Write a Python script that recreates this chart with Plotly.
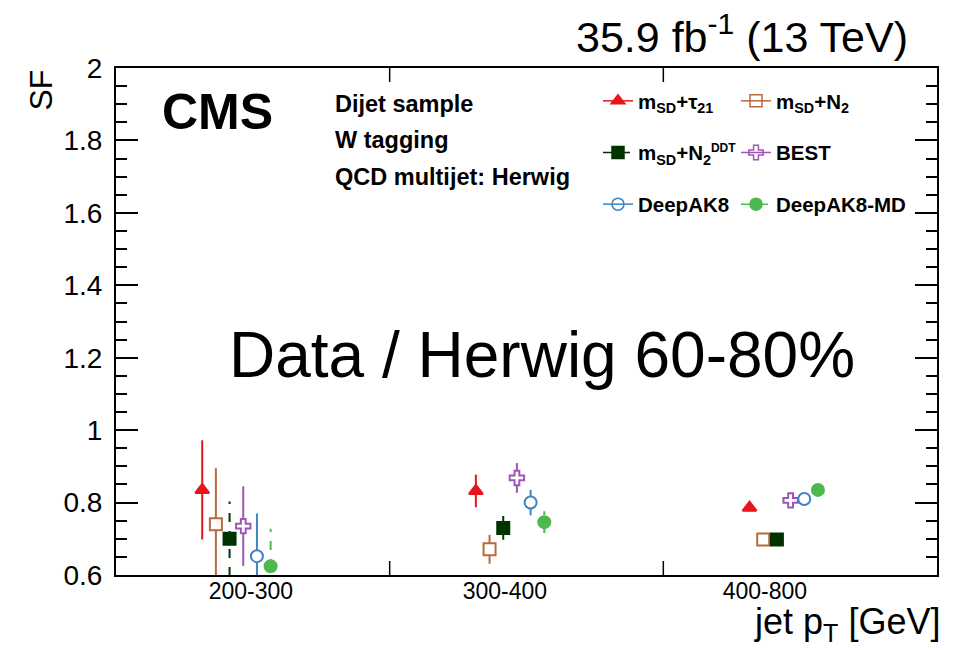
import plotly.graph_objects as go

# ---------------- data ----------------
bins = ["200-300", "300-400", "400-800"]
series_names = [
    "m<sub>SD</sub>+τ<sub>21</sub>",
    "m<sub>SD</sub>+N<sub>2</sub>",
    "m<sub>SD</sub>+N<sub>2</sub><sup><span style='font-size:12px'>DDT</span></sup>",
    "BEST",
    "DeepAK8",
    "DeepAK8-MD",
]
sf_tau21 = [0.835, 0.832, 0.786]
sf_n2 = [0.740, 0.671, 0.698]
sf_n2ddt = [0.700, 0.730, 0.698]
sf_best = [0.735, 0.868, 0.806]
sf_deepak8 = [0.652, 0.800, 0.810]
sf_deepak8md = [0.624, 0.746, 0.835]

err_tau21 = [0.137, 0.045, 0.010]
err_n2 = [0.155, 0.040, 0.010]
err_n2ddt = [0.103, 0.033, 0.010]
err_best = [0.110, 0.041, 0.010]
err_deepak8 = [0.118, 0.035, 0.010]
err_deepak8md = [0.104, 0.030, 0.010]

# ---------------- styles ----------------
FONT = "Liberation Sans, Arial, Helvetica, sans-serif"
W, H = 959, 650
L, R, T, B = 116, 22, 68, 75
PW, PH = W - L - R, H - T - B

def px(xp):
    return (xp - L) / PW

def py(yp):
    return (H - B - yp) / PH

styles = [
    dict(color="#e8141c", symbol="triangle-up", fill="#e8141c", dash="solid", lsym="triangle-up"),
    dict(color="#b9693c", symbol="square", fill="white", dash="solid", lsym="square-open"),
    dict(color="#003300", symbol="square", fill="#003300", dash="dash", lsym="square"),
    dict(color="#a056b4", symbol="cross", fill="white", dash="solid", lsym="cross-open"),
    dict(color="#3d84c6", symbol="circle", fill="white", dash="solid", lsym="circle-open"),
    dict(color="#4db84d", symbol="circle", fill="#4db84d", dash="dash", lsym="circle"),
]
values = [sf_tau21, sf_n2, sf_n2ddt, sf_best, sf_deepak8, sf_deepak8md]
errors = [err_tau21, err_n2, err_n2ddt, err_best, err_deepak8, err_deepak8md]

first_offset, step = 0.315, 0.05

fig = go.Figure()

# error bars (drawn as line segments so they can be dashed)
for k, (vals, errs, st) in enumerate(zip(values, errors, styles)):
    xs, ys = [], []
    for i, (v, e) in enumerate(zip(vals, errs)):
        x = i + first_offset + step * k
        xs += [x, x, None]
        ys += [v - e, v + e, None]
    fig.add_trace(go.Scatter(x=xs, y=ys, mode="lines",
                             line=dict(color=st["color"], width=2, dash=st["dash"]),
                             showlegend=False, hoverinfo="skip", cliponaxis=True))

# markers
for k, (vals, st, name) in enumerate(zip(values, styles, series_names)):
    xs = [i + first_offset + step * k for i in range(len(vals))]
    fig.add_trace(go.Scatter(x=xs, y=vals, mode="markers", name=name,
                             marker=dict(symbol=st["symbol"], size=12, color=st["fill"],
                                         line=dict(color=st["color"], width=2)),
                             showlegend=False))

# legend entries (two columns)
legend_cols = {0: "legend", 2: "legend", 4: "legend", 1: "legend2", 3: "legend2", 5: "legend2"}
for k in [0, 2, 4, 1, 3, 5]:
    st = styles[k]
    fig.add_trace(go.Scatter(x=[None], y=[None], mode="lines+markers",
                             name="<b>" + series_names[k] + "</b>",
                             legend=legend_cols[k], legendgroup=str(k),
                             line=dict(color=st["color"], width=1.5, dash=st["dash"]),
                             marker=dict(symbol=st["lsym"], size=12, color=st["color"],
                                         line=dict(color=st["color"], width=1.5))))

legend_common = dict(font=dict(family=FONT, size=20.5, color="black"),
                     bgcolor="rgba(0,0,0,0)", borderwidth=0,
                     tracegroupgap=22, itemwidth=30,
                     xanchor="left", yanchor="top", xref="paper", yref="paper")

tick_pos = [0.493, 1.421, 2.371]

fig.update_layout(
    width=W, height=H,
    margin=dict(l=L, r=R, t=T, b=B),
    paper_bgcolor="white", plot_bgcolor="white",
    font=dict(family=FONT, color="black"),
    legend=dict(x=px(598), y=py(81), **legend_common),
    legend2=dict(x=px(736), y=py(81), **legend_common),
    xaxis=dict(range=[0, 3], tickvals=tick_pos, ticktext=bins, ticks="",
               showgrid=False, zeroline=False, showline=True, linewidth=2,
               linecolor="black", mirror=True, ticklabelstandoff=-6,
               tickfont=dict(family=FONT, size=23, color="black")),
    yaxis=dict(range=[0.6, 2.0], dtick=0.2, tick0=0.6, ticks="inside", ticklen=22,
               tickwidth=1.5, tickcolor="black", showgrid=False, zeroline=False,
               showline=True, linewidth=2, linecolor="black", mirror="allticks",
               ticklabelstandoff=6,
               tickfont=dict(family=FONT, size=28, color="black"),
               minor=dict(dtick=0.05, ticks="inside", ticklen=11, tickwidth=1.5,
                          tickcolor="black", showgrid=False)),
    showlegend=True,
)

# bin-edge ticks on x axis (bottom and top)
for xe in [1, 2]:
    fig.add_shape(type="line", xref="x", yref="y", x0=xe, x1=xe,
                  ysizemode="pixel", yanchor=0.6, y0=0, y1=14,
                  line=dict(color="black", width=1.5))
    fig.add_shape(type="line", xref="x", yref="y", x0=xe, x1=xe,
                  ysizemode="pixel", yanchor=2.0, y0=0, y1=-14,
                  line=dict(color="black", width=1.5))

ann = []
ann.append(dict(text="35.9 fb<sup>-1</sup> (13 TeV)", x=px(910), y=py(34),
                xanchor="right", yanchor="middle", font=dict(size=43)))
ann.append(dict(text="<b>CMS</b>", x=px(160), y=py(112),
                xanchor="left", yanchor="middle", font=dict(size=50)))
for txt, yy in [("Dijet sample", 104), ("W tagging", 140), ("QCD multijet: Herwig", 177)]:
    ann.append(dict(text="<b>" + txt + "</b>", x=px(333), y=py(yy),
                    xanchor="left", yanchor="middle", font=dict(size=23.5)))
ann.append(dict(text="Data / Herwig 60-80%", x=px(542), y=py(355),
                xanchor="center", yanchor="middle", font=dict(size=64)))
ann.append(dict(text="SF", x=px(40), y=1.0, textangle=-90,
                xanchor="center", yanchor="top", font=dict(size=32)))
ann.append(dict(text="jet p<sub>T</sub> [GeV]", x=px(942), y=py(624),
                xanchor="right", yanchor="middle", font=dict(size=36)))
for a in ann:
    a.update(xref="paper", yref="paper", showarrow=False)
    a["font"].update(family=FONT, color="black")
    fig.add_annotation(**a)

fig.write_html("out.html", config={"displayModeBar": False},
               post_script="document.body.style.margin='0';")
